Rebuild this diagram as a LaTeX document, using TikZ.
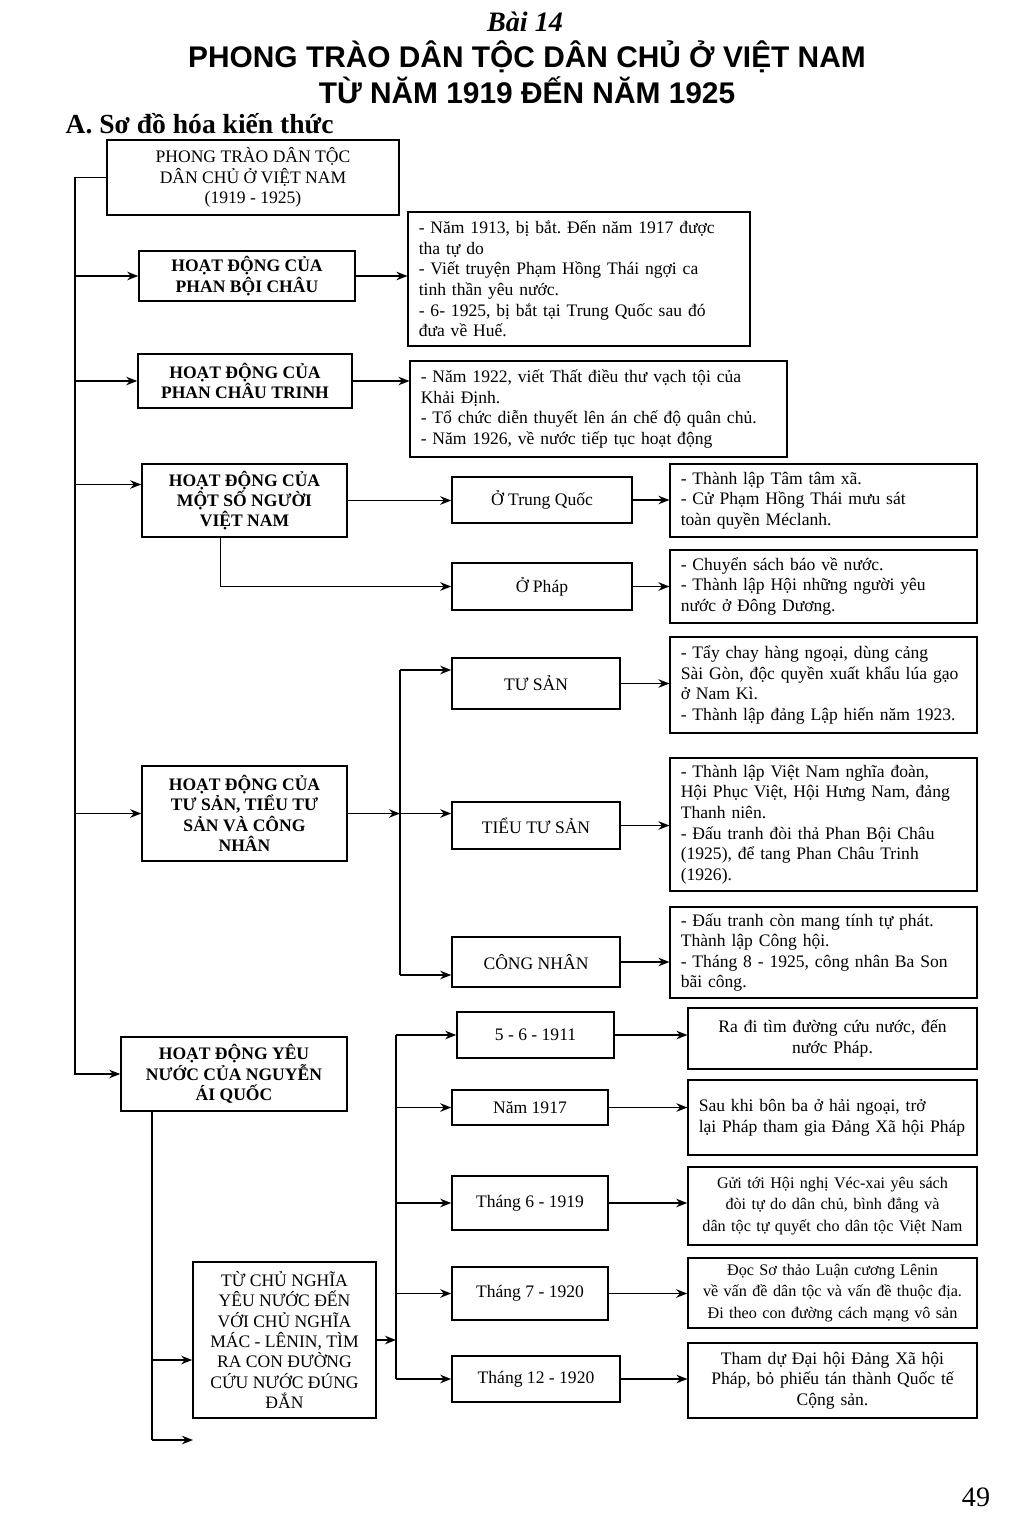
\documentclass[tikz,border=0pt]{standalone}
\usepackage{fontspec}
\setmainfont{Liberation Serif}
\newfontfamily\titlefont{Liberation Sans}
\usetikzlibrary{arrows.meta,calc}
\frenchspacing

\tikzset{
  arr/.style={-{Stealth[length=2.2mm,width=1.7mm]}},
  headbox/.style={draw, align=center, inner sep=2pt,
    font=\fontsize{10}{11.6}\selectfont\bfseries},
  plainbox/.style={draw, align=center, inner sep=2pt,
    font=\fontsize{10}{11.6}\selectfont},
  infobox/.style={draw, align=left, inner xsep=6pt, inner ysep=2pt,
    font=\fontsize{10}{11.7}\selectfont},
  tightbox/.style={infobox, align=center, inner xsep=2pt,
    font=\fontsize{9.2}{12.2}\selectfont},
}

\begin{document}
\begin{tikzpicture}[x=0.02cm, y=-0.02cm, line width=0.9pt]
  \useasboundingbox (0,0) rectangle (1024,1537);

  % titles
  \node[font=\fontsize{16}{19}\selectfont\bfseries\itshape] (bai) at (525,22) {Bài 14};
  \node[font=\titlefont\fontsize{17}{20}\selectfont\bfseries] (title1) at (527,57) {PHONG TRÀO DÂN TỘC DÂN CHỦ Ở VIỆT NAM};
  \node[font=\titlefont\fontsize{17}{20}\selectfont\bfseries] (title2) at (527,90) {TỪ NĂM 1919 ĐẾN NĂM 1925};
  \node[anchor=west, font=\fontsize{15.7}{18}\selectfont\bfseries] (sec) at (59,124) {A. Sơ đồ hóa kiến thức};
  \node[font=\fontsize{16}{19}\selectfont] (page) at (976,1497) {49};

  % left column
  \node[plainbox, minimum width=5.84cm, minimum height=1.5cm] (root) at (253,177.5) {PHONG TRÀO DÂN TỘC\\DÂN CHỦ Ở VIỆT NAM\\(1919 - 1925)};
  \node[headbox, minimum width=4.32cm, minimum height=1cm] (pbc) at (247,276) {HOẠT ĐỘNG CỦA\\PHAN BỘI CHÂU};
  \node[headbox, minimum width=4.28cm, minimum height=1.08cm] (pct) at (245,381) {HOẠT ĐỘNG CỦA\\PHAN CHÂU TRINH};
  \node[headbox, minimum width=4.1cm, minimum height=1.46cm] (vn) at (244.5,500.5) {HOẠT ĐỘNG CỦA\\MỘT SỐ NGƯỜI\\VIỆT NAM};
  \node[headbox, minimum width=4.1cm, minimum height=1.9cm] (ts) at (244.5,813.5) {HOẠT ĐỘNG CỦA\\TƯ SẢN, TIỂU TƯ\\SẢN VÀ CÔNG\\NHÂN};
  \node[headbox, minimum width=4.52cm, minimum height=1.48cm] (naq) at (234,1074) {HOẠT ĐỘNG YÊU\\NƯỚC CỦA NGUYỄN\\ÁI QUỐC};
  \node[plainbox, minimum width=3.66cm, minimum height=3.12cm] (cn) at (284.5,1340) {TỪ CHỦ NGHĨA\\YÊU NƯỚC ĐẾN\\VỚI CHỦ NGHĨA\\MÁC - LÊNIN, TÌM\\RA CON ĐƯỜNG\\CỨU NƯỚC ĐÚNG\\ĐẮN};

  % middle column
  \node[plainbox, minimum width=3.6cm, minimum height=0.92cm] (tq) at (542,500) {Ở Trung Quốc};
  \node[plainbox, minimum width=3.6cm, minimum height=0.94cm] (ph) at (542,586.5) {Ở Pháp};
  \node[plainbox, minimum width=3.36cm, minimum height=1.02cm] (tsan) at (536,683.5) {TƯ SẢN};
  \node[plainbox, minimum width=3.36cm, minimum height=0.94cm] (ttsan) at (536,825.5) {TIỂU TƯ SẢN};
  \node[plainbox, minimum width=3.36cm, minimum height=1cm] (cnhan) at (536,962) {CÔNG NHÂN};
  \node[plainbox, minimum width=3.14cm, minimum height=0.92cm] (y1911) at (535.5,1035) {5 - 6 - 1911};
  \node[plainbox, minimum width=3.12cm, minimum height=0.7cm] (y1917) at (530,1107.5) {Năm 1917};
  \node[plainbox, minimum width=3.12cm, minimum height=1.08cm] (y1919) at (530,1203) {Tháng 6 - 1919};
  \node[plainbox, minimum width=3.12cm, minimum height=1.06cm] (y1920a) at (530,1293.5) {Tháng 7 - 1920};
  \node[plainbox, minimum width=3.36cm, minimum height=0.92cm] (y1920b) at (536,1379) {Tháng 12 - 1920};

  % right column
  \node[infobox, text width=6.41cm, minimum height=2.68cm] (pbcinfo) at (579,279) {- Năm 1913, bị bắt. Đến năm 1917 được\\tha tự do\\- Viết truyện Phạm Hồng Thái ngợi ca\\tinh thần yêu nước.\\- 6- 1925, bị bắt tại Trung Quốc sau đó\\đưa về Huế.};
  \node[infobox, text width=7.11cm, minimum height=1.92cm] (pctinfo) at (598.5,409) {- Năm 1922, viết Thất điều thư vạch tội của\\Khải Định.\\- Tổ chức diễn thuyết lên án chế độ quân chủ.\\- Năm 1926, về nước tiếp tục hoạt động};
  \node[infobox, text width=5.71cm, minimum height=1.46cm] (tqinfo) at (823.5,500.5) {- Thành lập Tâm tâm xã.\\- Cử Phạm Hồng Thái mưu sát\\toàn quyền Méclanh.};
  \node[infobox, text width=5.71cm, minimum height=1.46cm] (phinfo) at (823.5,586.5) {- Chuyển sách báo về nước.\\- Thành lập Hội những người yêu\\nước ở Đông Dương.};
  \node[infobox, text width=5.71cm, minimum height=1.92cm] (tsaninfo) at (823.5,685) {- Tẩy chay hàng ngoại, dùng cảng\\Sài Gòn, độc quyền xuất khẩu lúa gạo\\ở Nam Kì.\\- Thành lập đảng Lập hiến năm 1923.};
  \node[infobox, text width=5.71cm, minimum height=2.66cm] (ttsaninfo) at (823.5,824.5) {- Thành lập Việt Nam nghĩa đoàn,\\Hội Phục Việt, Hội Hưng Nam, đảng\\Thanh niên.\\- Đấu tranh đòi thả Phan Bội Châu\\(1925), để tang Phan Châu Trinh\\(1926).};
  \node[infobox, text width=5.71cm, minimum height=1.82cm] (cnhaninfo) at (823.5,952.5) {- Đấu tranh còn mang tính tự phát.\\Thành lập Công hội.\\- Tháng 8 - 1925, công nhân Ba Son\\bãi công.};
  \node[infobox, align=center, text width=5.35cm, minimum height=1.22cm] (d1911) at (832.5,1038.5) {Ra đi tìm đường cứu nước, đến\\nước Pháp.};
  \node[infobox, text width=5.35cm, minimum height=1.5cm] (d1917) at (832.5,1117.5) {Sau khi bôn ba ở hải ngoại, trở\\lại Pháp tham gia Đảng Xã hội Pháp};
  \node[tightbox, text width=5.64cm, minimum height=1.56cm] (d1919) at (832.5,1206) {Gửi tới Hội nghị Véc-xai yêu sách\\đòi tự do dân chủ, bình đẳng và\\dân tộc tự quyết cho dân tộc Việt Nam};
  \node[tightbox, text width=5.64cm, minimum height=1.4cm] (d1920a) at (832.5,1293) {Đọc Sơ thảo Luận cương Lênin\\về vấn đề dân tộc và vấn đề thuộc địa.\\Đi theo con đường cách mạng vô sản};
  \node[infobox, align=center, text width=5.35cm, minimum height=1.5cm] (d1920b) at (832.5,1380.5) {Tham dự Đại hội Đảng Xã hội\\Pháp, bỏ phiếu tán thành Quốc tế\\Cộng sản.};

  % main spine
  \coordinate (s0) at (75,177);
  \draw[arr] (root.west) -- (root.west -| s0) |- (naq.west);
  \draw[arr] (pbc.west -| s0) -- (pbc.west);
  \draw[arr] (pct.west -| s0) -- (pct.west);
  \coordinate (vnin) at ($(vn.west)+(0,-16)$);
  \draw[arr] (vnin -| s0) -- (vnin);
  \draw[arr] (ts.west -| s0) -- (ts.west);

  % first groups
  \draw[arr] (pbc.east) -- (pbc.east -| pbcinfo.west);
  \draw[arr] (pct.east) -- (pct.east -| pctinfo.west);
  \draw[arr] (vn.east) -- (vn.east -| tq.west);
  \draw[arr] ($(vn.south)+(-24,0)$) |- (ph.west);
  \draw[arr] (tq.east) -- (tq.east -| tqinfo.west);
  \draw[arr] (ph.east) -- (ph.east -| phinfo.west);

  % classes
  \coordinate (j1) at (400,670);
  \coordinate (j1b) at (400,975);
  \draw (j1) -- (j1b);
  \draw[arr] (ts.east) -- (ts.east -| j1);
  \draw[arr] (j1) -- (j1 -| tsan.west);
  \draw[arr] (ts.east -| j1) -- (ts.east -| ttsan.west);
  \draw[arr] (j1b) -- (j1b -| cnhan.west);
  \draw[arr] (tsan.east) -- (tsan.east -| tsaninfo.west);
  \draw[arr] (ttsan.east) -- (ttsan.east -| ttsaninfo.west);
  \draw[arr] (cnhan.east) -- (cnhan.east -| cnhaninfo.west);

  % Nguyen Ai Quoc
  \coordinate (k0) at (152,1440);
  \coordinate (k1) at (152,1360);
  \coordinate (kend) at (193,1440);
  \draw (naq.south -| k0) -- (k0);
  \draw[arr] (k1) -- (k1 -| cn.west);
  \draw[arr] (k0) -- (kend);
  \coordinate (j2) at (396,1035);
  \draw (j2 |- y1911) -- (j2 |- y1920b);
  \draw[arr] (cn.east) -- (cn.east -| j2);
  \foreach \y in {y1911,y1917,y1919,y1920a,y1920b}
    \draw[arr] (j2 |- \y) -- (\y.west);
  \draw[arr] (y1911.east) -- (y1911.east -| d1911.west);
  \draw[arr] (y1917.east) -- (y1917.east -| d1917.west);
  \draw[arr] (y1919.east) -- (y1919.east -| d1919.west);
  \draw[arr] (y1920a.east) -- (y1920a.east -| d1920a.west);
  \draw[arr] (y1920b.east) -- (y1920b.east -| d1920b.west);
\end{tikzpicture}
\end{document}
